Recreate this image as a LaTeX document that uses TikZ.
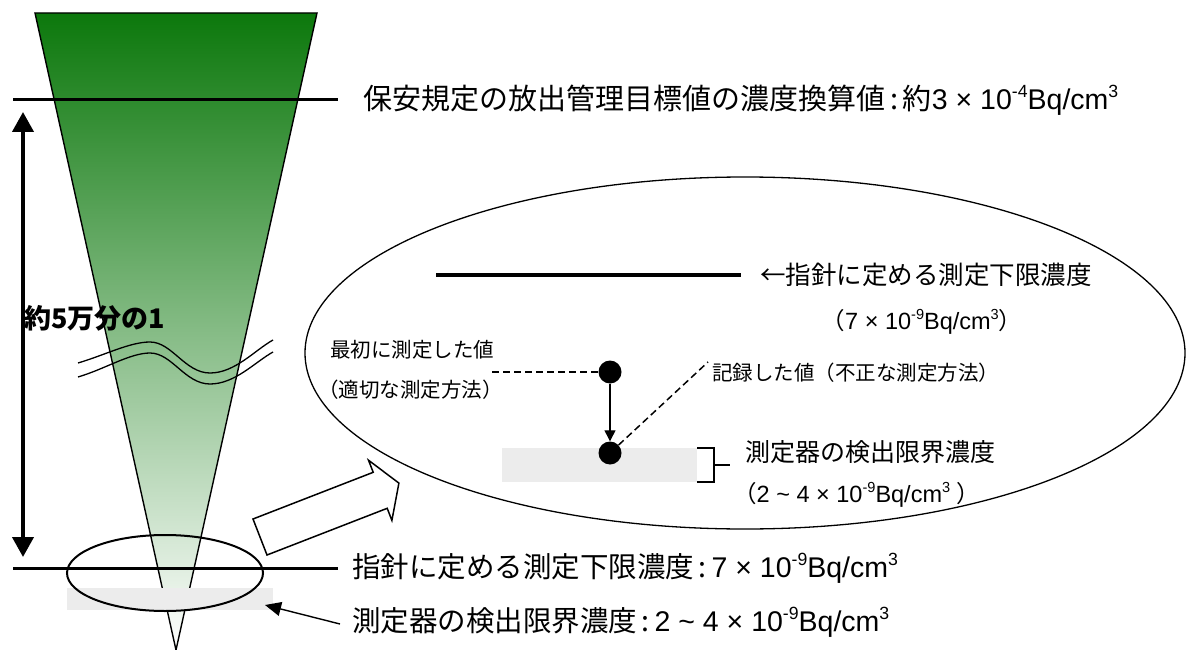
\documentclass[tikz,border=0pt]{standalone}
\usepackage{fontspec}
\usepackage{graphicx}
\setmainfont{Liberation Sans}
\newfontfamily\jp{Noto Sans CJK JP}
\usetikzlibrary{arrows.meta}
\newcommand\mysup[1]{\raisebox{0.42em}{\scalebox{0.62}{#1}}}
\definecolor{fgreen}{RGB}{12,120,12}
\definecolor{bandgray}{RGB}{236,236,236}
\begin{document}
\begin{tikzpicture}[x=1pt,y=-1pt,
  outline/.style={line width=1.4pt},
  level/.style={line width=3pt},
  biglbl/.style={anchor=west,inner sep=0pt,font=\fontsize{28.5}{32}\selectfont},
  midlbl/.style={anchor=west,inner sep=0pt,font=\fontsize{23.5}{26}\selectfont},
  smalllbl/.style={anchor=west,inner sep=0pt,font=\jp\fontsize{20.5}{24}\selectfont},
  dashline/.style={line width=1.5pt,dash pattern=on 7pt off 4pt},
  dot/.style={circle,fill=black,inner sep=0pt,minimum size=23pt}]
\useasboundingbox (0,0) rectangle (1186,650);

% funnel
\coordinate (fl) at (35,13);
\coordinate (fr) at (317,13);
\coordinate (fa) at (176,650);
\shade[top color=fgreen,middle color=fgreen!42,bottom color=white] (fl) -- (fr) -- (fa) -- cycle;
\draw[outline] (fl) -- (fr) -- (fa) -- cycle;

% break lines
\draw[line width=1.3pt] (78,363) .. controls (105,355) and (130,342) .. (150,342)
  .. controls (172,342) and (185,373) .. (210,373)
  .. controls (235,373) and (255,350) .. (273,340);
\draw[line width=1.3pt] (78,377) .. controls (105,369) and (130,353) .. (150,353)
  .. controls (172,353) and (185,384) .. (210,384)
  .. controls (235,384) and (255,362) .. (273,352);

% band under funnel
\fill[bandgray] (67,588) rectangle (273,610);

% level lines
\coordinate (t1) at (13,100);
\coordinate (t2) at (338,100);
\draw[level] (t1) -- (t2);
\coordinate (b1) at (13,568);
\coordinate (b2) at (338,568);
\draw[level] (b1) -- (b2);

% small ellipse
\draw[line width=2pt] (165,573) ellipse [x radius=98pt,y radius=38pt];

% double arrow
\coordinate (da1) at (23,112);
\coordinate (da2) at (23,557);
\draw[line width=4pt,{Triangle[width=21pt,length=20pt]}-{Triangle[width=21pt,length=20pt]}] (da1) -- (da2);
\node[anchor=west,inner sep=0pt,font=\jp\bfseries\fontsize{27}{30}\selectfont] (ratio) at (24,318) {約5万分の1};

% labels
\node[biglbl] (toplbl) at (363,100) {{\jp\fontsize{29}{32}\selectfont 保安規定の放出管理目標値の濃度換算値\,:\,約}3 × 10\mysup{-4}Bq/cm\mysup{3}};
\node[biglbl] (limlbl) at (352,568) {{\jp 指針に定める測定下限濃度\,:\,}7 × 10\mysup{-9}Bq/cm\mysup{3}};
\node[biglbl] (detlbl) at (352,622) {{\jp 測定器の検出限界濃度\,:\,}2 \textasciitilde{} 4 × 10\mysup{-9}Bq/cm\mysup{3}};
\coordinate (detarrow) at (340,624);
\coordinate (bandpt) at (265,605);
\draw[outline,-{Triangle[width=14pt,length=16pt]}] (detarrow) -- (bandpt);

% block arrow
\draw[line width=1.5pt,fill=white] (253,519) -- (373.2,472.3) -- (368.5,460.2) -- (398.9,483.1)
  -- (391.9,520.4) -- (387.2,508.3) -- (267,555) -- cycle;

% big ellipse
\draw[line width=1.3pt] (745,353) ellipse [x radius=440pt,y radius=176pt];

% inside ellipse
\coordinate (il1) at (436,275);
\coordinate (il2) at (741,275);
\draw[line width=3.5pt] (il1) -- (il2);
\node[anchor=west,inner sep=0pt,font=\jp\fontsize{25.5}{30}\selectfont] (inlim) at (760,275) {←指針に定める測定下限濃度};
\node[midlbl,anchor=center] (inlimv) at (922,322) {{\jp （}7 × 10\mysup{-9}Bq/cm\mysup{3}{\jp ）}};

\fill[bandgray] (502,448) rectangle (697,482);
\draw[line width=1.5pt] (697,448) -- (714,448) -- (714,482) -- (697,482);
\coordinate (brk1) at (714,465);
\coordinate (brk2) at (730,465);
\draw[line width=1.5pt] (brk1) -- (brk2);
\node[anchor=west,inner sep=0pt,font=\jp\fontsize{25}{30}\selectfont] (indet) at (745,452) {測定器の検出限界濃度};
\node[midlbl] (indetv) at (733,495) {{\jp （}2 \textasciitilde{} 4 × 10\mysup{-9}Bq/cm\mysup{3} {\jp ）}};

\node[dot] (d1) at (610,372) {};
\node[dot] (d2) at (610,453) {};
\draw[line width=1.3pt,-{Triangle[width=11pt,length=11pt]}] (d1) -- (d2);
\coordinate (firstend) at (492,372);
\draw[dashline] (firstend) -- (d1);
\coordinate (recend) at (708,362);
\draw[dashline] (d2) -- (recend);

\node[smalllbl] (first) at (330,350) {最初に測定した値};
\node[smalllbl] (firstm) at (318,390) {（適切な測定方法）};
\node[smalllbl] (rec) at (712,373) {記録した値（不正な測定方法）};
\end{tikzpicture}
\end{document}
